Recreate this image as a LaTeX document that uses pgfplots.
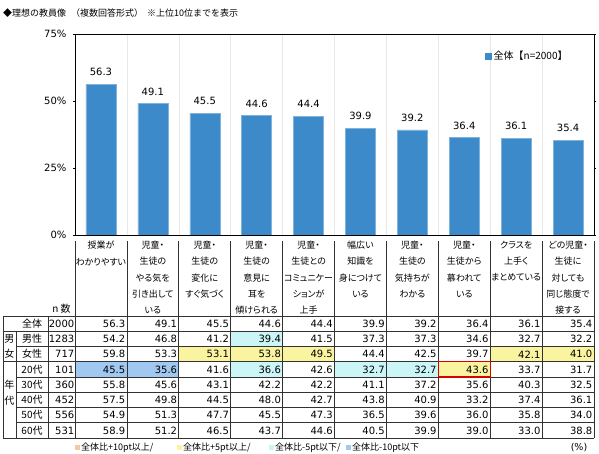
\documentclass[border=0pt]{standalone}
\usepackage{pgfplots}
\pgfplotsset{compat=1.18}
\usepackage{fontspec}
\setmainfont{DejaVu Sans}
\newfontfamily\jpf{Noto Sans CJK JP}
\newfontfamily\jpp[RawFeature=+palt]{Noto Sans CJK JP}
\definecolor{barblue}{RGB}{60,138,201}
\definecolor{cyel}{RGB}{250,243,160}
\definecolor{ccyan}{RGB}{204,245,248}
\definecolor{cblue}{RGB}{160,200,240}
\definecolor{corange}{RGB}{247,200,160}
\definecolor{gridgray}{RGB}{232,232,232}
\definecolor{tline}{RGB}{50,50,50}
\begin{document}
\begin{tikzpicture}
\useasboundingbox (0,0) rectangle (599pt,454pt);
\begin{axis}[
  at={(75pt,219pt)}, anchor=south west,
  scale only axis, width=519pt, height=201pt,
  xmin=-0.5, xmax=9.5, ymin=0, ymax=75,
  ybar, bar width=30pt,
  /pgf/number format/assume math mode=true,
  xtick={0.5,1.5,...,8.5}, xticklabels={}, xmajorgrids=true,
  major grid style={draw=gridgray, line width=0.6pt},
  xtick style={draw=none},
  ytick={0,25,50,75}, yticklabels={0\%,25\%,50\%,75\%},
  ytick style={draw=black, line width=0.6pt},
  tick align=outside, major tick length=2pt,
  yticklabel style={font=\fontsize{10}{12}\selectfont, xshift=-3pt},
  axis line style={draw=black, line width=0.8pt},
  nodes near coords,
  nodes near coords style={font=\fontsize{10}{12}\selectfont, yshift=4.6pt, /pgf/number format/.cd, fixed, fixed zerofill, precision=1},
  legend style={at={(0.79,0.89)}, anchor=west, draw=none, fill=none, inner sep=0pt, font=\jpf\fontsize{10}{12}\selectfont},
  legend image code/.code={\fill[barblue] (0pt,-3pt) rectangle (6pt,3pt);},
]
\addplot[fill=barblue, draw=barblue!65!white, line width=0.5pt] coordinates {
(0,56.3) (1,49.1) (2,45.5) (3,44.6) (4,44.4) (5,39.9) (6,39.2) (7,36.4) (8,36.1) (9,35.4)};
\addlegendentry{全体【n=2000】}
\end{axis}

\begin{scope}[x=1pt, y=-1pt, yshift=454pt]
% title
\node[anchor=west, inner sep=0pt, font=\jpf\fontsize{9}{11}\selectfont] at (3,13) {◆理想の教員像};
\node[anchor=west, inner sep=0pt, font=\jpf\fontsize{9}{11}\selectfont] at (71,13) {（複数回答形式）};
\node[anchor=west, inner sep=0pt, font=\jpf\fontsize{9}{11}\selectfont] at (147,13) {※上位10位までを表示};

% cell fills
\def\rh{15.25}
\foreach \r/\c/\col in {2/2/cyel,2/3/cyel,2/4/cyel,2/8/cyel,2/9/cyel,3/7/cyel,
                       3/0/cblue,3/1/cblue,1/3/ccyan,3/3/ccyan,3/5/ccyan,3/6/ccyan}{
  \fill[\col] ({75+51.9*\c},{316+\rh*\r}) rectangle ({75+51.9*(\c+1)},{316+\rh*(\r+1)});
}

% header verticals
\foreach \i in {0,...,10}{
  \draw[tline, line width=0.7pt] ({75+51.9*\i},241) -- ({75+51.9*\i},438);
}
% body lines
\draw[tline, line width=0.7pt] (3,316) -- (594,316);
\draw[tline, line width=0.7pt] (3,331.25) -- (594,331.25);
\draw[tline, line width=0.7pt] (16,346.5) -- (594,346.5);
\draw[tline, line width=1.1pt] (3,361.75) -- (594,361.75);
\foreach \y in {377,392.25,407.5,422.75}{
  \draw[tline, line width=0.7pt] (16,\y) -- (594,\y);
}
\draw[tline, line width=0.7pt] (3,438) -- (594,438);
\draw[tline, line width=0.7pt] (3,316) -- (3,438);
\draw[tline, line width=0.7pt] (16,331.25) -- (16,438);
\draw[tline, line width=0.7pt] (48,316) -- (48,438);
% red border
\draw[red!85!black, line width=1.4pt] ({75+51.9*7},{316+\rh*3}) rectangle ({75+51.9*8},{316+\rh*4});

% header labels
\foreach \i/\t in {0/{授業が\\わかりやすい},
  1/{児童・\\生徒の\\やる気を\\引き出して\\いる},
  2/{児童・\\生徒の\\変化に\\すぐ気づく},
  3/{児童・\\生徒の\\意見に\\耳を\\傾けられる},
  4/{児童・\\生徒との\\コミュニケー\\ションが\\上手},
  5/{幅広い\\知識を\\身につけて\\いる},
  6/{児童・\\生徒の\\気持ちが\\わかる},
  7/{児童・\\生徒から\\慕われて\\いる},
  8/{クラスを\\上手く\\まとめている},
  9/{どの児童・\\生徒に\\対しても\\同じ態度で\\接する}}{
  \node[anchor=north, align=center, inner sep=0pt, font=\jpp\fontsize{9}{16.2}\selectfont] at ({75+51.9*\i+25.95},241) {\t};
}
\node[font=\jpf\fontsize{10}{12}\selectfont, inner sep=0pt] at (61.5,309) {n 数};

% row labels and values
\foreach \r/\lab/\n/\vals in {
  0/全体/2000/{56.3,49.1,45.5,44.6,44.4,39.9,39.2,36.4,36.1,35.4},
  1/男性/1283/{54.2,46.8,41.2,39.4,41.5,37.3,37.3,34.6,32.7,32.2},
  2/女性/717/{59.8,53.3,53.1,53.8,49.5,44.4,42.5,39.7,42.1,41.0},
  3/20代/101/{45.5,35.6,41.6,36.6,42.6,32.7,32.7,43.6,33.7,31.7},
  4/30代/360/{55.8,45.6,43.1,42.2,42.2,41.1,37.2,35.6,40.3,32.5},
  5/40代/452/{57.5,49.8,44.5,48.0,42.7,43.8,40.9,33.2,37.4,36.1},
  6/50代/556/{54.9,51.3,47.7,45.5,47.3,36.5,39.6,36.0,35.8,34.0},
  7/60代/531/{58.9,51.2,46.5,43.7,44.6,40.5,39.9,39.0,33.0,38.8}}{
  \node[font=\jpp\fontsize{10}{12}\selectfont, inner sep=0pt] at (32,{316+\rh*\r+7.6}) {\lab};
  \node[anchor=east, font=\fontsize{10}{12}\selectfont, inner sep=0pt] at (74.5,{316+\rh*\r+7.8}) {\n};
  \foreach \v [count=\c from 0] in \vals {
    \node[anchor=east, font=\fontsize{10}{12}\selectfont, inner sep=0pt] at ({75+51.9*(\c+1)-1.5},{316+\rh*\r+7.8}) {\v};
  }
}
\node[font=\jpf\fontsize{10}{12}\selectfont, inner sep=0pt] at (9.5,339) {男};
\node[font=\jpf\fontsize{10}{12}\selectfont, inner sep=0pt] at (9.5,354) {女};
\node[font=\jpf\fontsize{10}{12}\selectfont, inner sep=0pt] at (9.5,385) {年};
\node[font=\jpf\fontsize{10}{12}\selectfont, inner sep=0pt] at (9.5,401) {代};

% bottom legend
\foreach \x/\col/\t in {75/corange/{全体比+10pt以上/},177/cyel/{全体比+5pt以上/},269/ccyan/{全体比-5pt以下/},346/cblue/{全体比-10pt以下}}{
  \fill[\col] (\x,445.5) rectangle ({\x+5},450.5);
  \node[anchor=west, inner sep=0pt, font=\jpp\fontsize{9}{11}\selectfont] at ({\x+6},448) {\t};
}
\node[font=\fontsize{9.5}{11}\selectfont, inner sep=0pt] at (579,448) {(\%)};
\end{scope}
\end{tikzpicture}
\end{document}
